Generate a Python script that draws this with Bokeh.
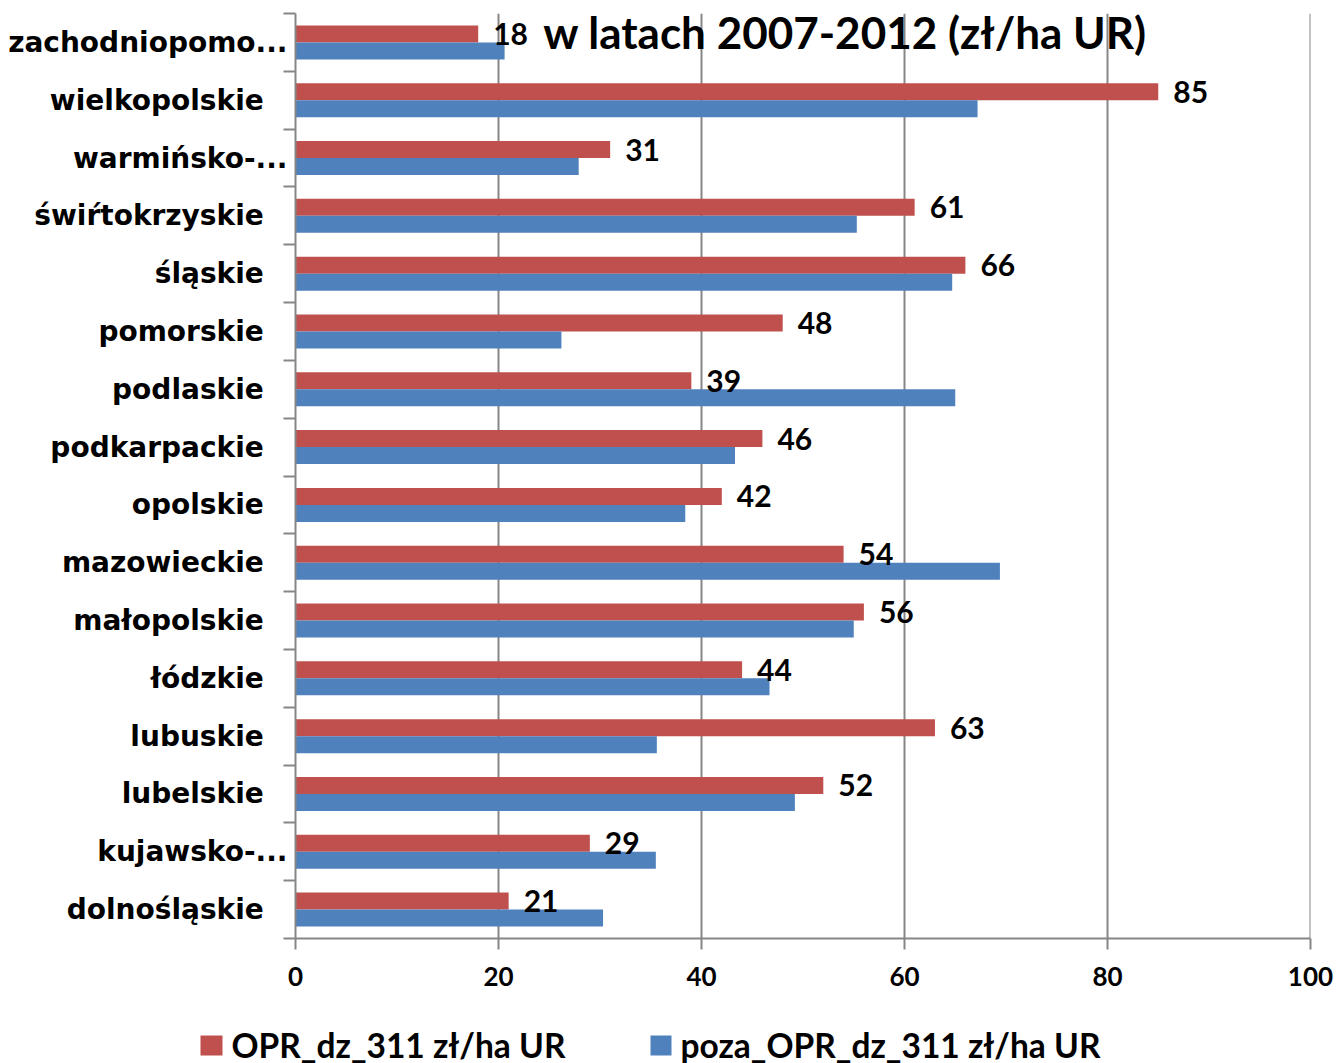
import numpy as np
from bokeh.plotting import figure
from bokeh.models import (ColumnDataSource, FixedTicker, Label, LabelSet, Range1d)
from bokeh.core.properties import value
from bokeh.embed import file_html
from bokeh.resources import INLINE

# ---- data (bottom to top) ----
categories = ["dolnośląskie", "kujawsko-...", "lubelskie", "lubuskie", "łódzkie",
              "małopolskie", "mazowieckie", "opolskie", "podkarpackie", "podlaskie",
              "pomorskie", "śląskie", "świŕtokrzyskie", "warmińsko-...",
              "wielkopolskie", "zachodniopomo..."]
opr_values = [21, 29, 52, 63, 44, 56, 54, 42, 46, 39, 48, 66, 61, 31, 85, 18]
poza_values = [30.3, 35.5, 49.2, 35.6, 46.7, 55.0, 69.4, 38.4, 43.3, 65.0,
               26.2, 64.7, 55.3, 27.9, 67.2, 20.6]
x_ticks = [0, 20, 40, 60, 80, 100]
series_names = ["OPR_dz_311 zł/ha UR", "poza_OPR_dz_311 zł/ha UR"]
title_text = "w latach 2007-2012 (zł/ha UR)"

RED = "#C0504D"
BLUE = "#4F81BD"
GRID = "#868686"
CAT_FONT = "DejaVu Sans"
NUM_FONT = "Lato"

idx = np.arange(len(categories))
bar_h = 0.294
src_red = ColumnDataSource(dict(y=idx + bar_h / 2, v=opr_values,
                                lab=[str(v) for v in opr_values]))
src_blue = ColumnDataSource(dict(y=idx - bar_h / 2, v=poza_values))

p = figure(width=1340, height=1000, output_backend="svg", toolbar_location=None,
           x_range=(0, 100.0005), y_range=(-0.5, len(categories) - 0.5),
           min_border_left=295, min_border_right=30, min_border_top=13,
           min_border_bottom=62)
p.outline_line_color = None
p.background_fill_color = "white"
p.border_fill_color = "white"

# title (partially visible, drawn behind the grid)
p.add_layout(Label(x=24.4, y=len(categories) - 0.5, y_offset=8, text=title_text,
                   text_baseline="top", text_align="left", text_font=NUM_FONT,
                   text_font_style="bold", text_font_size="44px",
                   text_color="black", level="underlay"))

r_red = p.hbar(y="y", right="v", left=0, height=bar_h, source=src_red,
               fill_color=RED, line_color=None)
r_blue = p.hbar(y="y", right="v", left=0, height=bar_h, source=src_blue,
                fill_color=BLUE, line_color=None)

# data labels
labels = LabelSet(x="v", y="y", text="lab", source=src_red, x_offset=15,
                  text_baseline="middle", text_align="left",
                  text_font=value(NUM_FONT), text_font_style="bold",
                  text_font_size="30px", text_color="black")
p.add_layout(labels)

# x axis
xa = p.xaxis[0]
xa.ticker = FixedTicker(ticks=x_ticks)
xa.axis_line_color = GRID
xa.axis_line_width = 2
xa.major_tick_line_color = GRID
xa.major_tick_line_width = 2
xa.major_tick_out = 11
xa.major_tick_in = 0
xa.minor_tick_line_color = None
xa.major_label_text_font = NUM_FONT
xa.major_label_text_font_style = "bold"
xa.major_label_text_font_size = "26px"
xa.major_label_text_color = "black"
xa.major_label_standoff = 17

# y axis
ya = p.yaxis[0]
ya.ticker = FixedTicker(ticks=list(idx),
                        minor_ticks=[i - 0.5 for i in range(len(categories) + 1)])
pad = "\u2002\u00a0"
ya.major_label_overrides = {int(i): (c if c.endswith("...") else c + pad)
                            for i, c in zip(idx, categories)}
ya.axis_line_color = GRID
ya.axis_line_width = 2
ya.major_tick_line_color = None
ya.major_tick_out = 0
ya.major_tick_in = 0
ya.minor_tick_line_color = GRID
ya.minor_tick_line_width = 2
ya.minor_tick_out = 12
ya.minor_tick_in = 0
ya.major_label_text_font = CAT_FONT
ya.major_label_text_font_style = "bold"
ya.major_label_text_font_size = "28px"
ya.major_label_text_color = "black"
ya.major_label_standoff = -4

p.xgrid.ticker = FixedTicker(ticks=x_ticks)
p.xgrid.grid_line_color = GRID
p.xgrid.grid_line_width = 2
p.ygrid.grid_line_color = None

# ---- legend strip (separate root, pixel coordinates) ----
leg = figure(width=1340, height=63, output_backend="svg", toolbar_location=None,
             x_range=Range1d(0, 1340), y_range=Range1d(0, 63),
             x_axis_location=None, y_axis_location=None,
             min_border=0)
leg.outline_line_color = None
leg.grid.visible = False
leg_src = ColumnDataSource(dict(
    left=[200, 650], right=[222, 671], bottom=[8, 8], top=[28, 28],
    color=[RED, BLUE], tx=[231, 680], ty=[19, 19], name=series_names))
leg.quad(left="left", right="right", bottom="bottom", top="top",
         fill_color="color", line_color=None, source=leg_src)
leg.text(x="tx", y="ty", text="name", source=leg_src, text_baseline="middle",
         text_align="left", text_font=value(NUM_FONT), text_font_style="bold",
         text_font_size="33.5px", text_line_height=1.0, text_color="black")

open("out.html", "w").write(file_html([p, leg], INLINE))
